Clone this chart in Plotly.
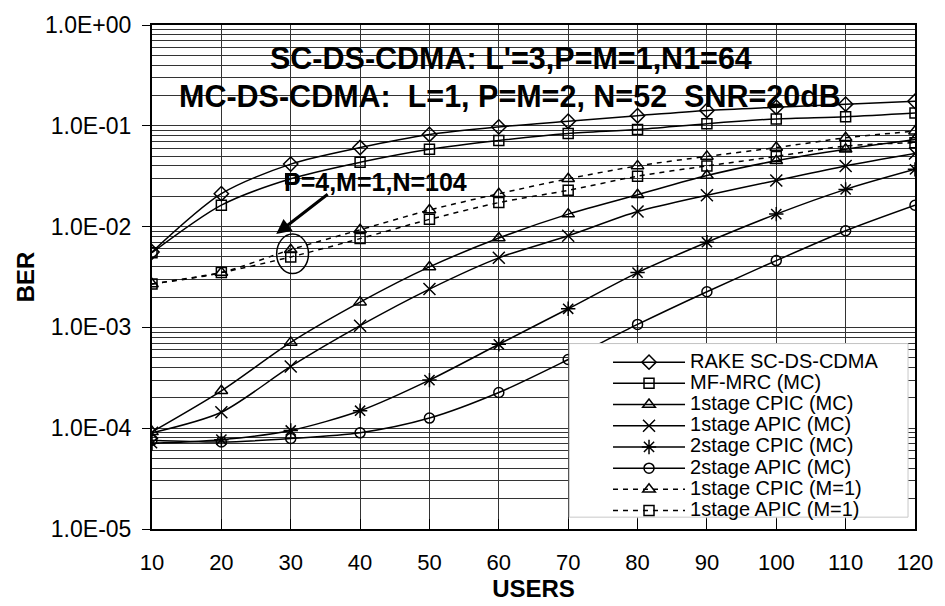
import plotly.graph_objects as go

# ---------------- data ----------------
users = [10, 20, 30, 40, 50, 60, 70, 80, 90, 100, 110, 120]

rake_sc = [5.6e-3, 0.0212, 0.0417, 0.0608, 0.082, 0.0975, 0.111, 0.126, 0.142, 0.153, 0.164, 0.175]
mf_mrc_mc = [5.5e-3, 0.0163, 0.0298, 0.0434, 0.0585, 0.0716, 0.0839, 0.0918, 0.105, 0.117, 0.123, 0.134]
cpic1_mc = [9.2e-5, 2.35e-4, 7.1e-4, 1.78e-3, 3.98e-3, 7.7e-3, 0.0133, 0.0207, 0.0321, 0.045, 0.0585, 0.073]
apic1_mc = [9.0e-5, 1.44e-4, 4.1e-4, 1.04e-3, 2.4e-3, 4.9e-3, 8.1e-3, 0.0141, 0.0205, 0.0287, 0.040, 0.053]
cpic2_mc = [7.1e-5, 7.7e-5, 9.5e-5, 1.49e-4, 3.0e-4, 6.8e-4, 1.53e-3, 3.5e-3, 7.0e-3, 0.0133, 0.0234, 0.037]
apic2_mc = [7.6e-5, 7.3e-5, 7.9e-5, 9.0e-5, 1.26e-4, 2.26e-4, 4.8e-4, 1.07e-3, 2.26e-3, 4.6e-3, 9.1e-3, 0.0163]
cpic1_m1 = [2.7e-3, 3.5e-3, 5.9e-3, 9.3e-3, 0.0146, 0.0212, 0.0298, 0.040, 0.0497, 0.0608, 0.076, 0.0885]
apic1_m1 = [2.7e-3, 3.5e-3, 5.0e-3, 7.6e-3, 0.0118, 0.0173, 0.0229, 0.0316, 0.040, 0.0497, 0.063, 0.068]

series_names = ["RAKE SC-DS-CDMA", "MF-MRC (MC)", "1stage CPIC (MC)", "1stage APIC (MC)",
                "2stage CPIC (MC)", "2stage APIC (MC)", "1stage CPIC (M=1)", "1stage APIC (M=1)"]

y_tick_vals = [1e-5, 1e-4, 1e-3, 1e-2, 1e-1, 1.0]
y_tick_text = ["1.0E-05", "1.0E-04", "1.0E-03", "1.0E-02", "1.0E-01", "1.0E+00"]
x_tick_vals = users

title_line1 = "SC-DS-CDMA: L'=3,P=M=1,N1=64"
title_line2 = "MC-DS-CDMA:\u00a0 L=1, P=M=2, N=52\u00a0 SNR=20dB"
note_text = "P=4,M=1,N=104"

# ---------------- styles ----------------
FONT = "Liberation Sans, Arial, sans-serif"
series = [rake_sc, mf_mrc_mc, cpic1_mc, apic1_mc, cpic2_mc, apic2_mc, cpic1_m1, apic1_m1]
symbols = ["diamond-open", "square-open", "triangle-up-open", "x-thin-open",
           "asterisk-open", "circle-open", "triangle-up-open", "square-open"]
sizes = [11, 10, 11, 12, 12, 10, 11, 10]
dashes = ["solid"] * 6 + ["5px,5px", "5px,5px"]

fig = go.Figure()
for name, vals, sym, sz, dsh in zip(series_names, series, symbols, sizes, dashes):
    fig.add_trace(go.Scatter(
        x=users, y=vals, mode="lines+markers",
        name='<span style="font-size:20px">' + name + "</span>",
        line=dict(color="black", width=1.5, dash=dsh, shape="spline", smoothing=0.8),
        marker=dict(symbol=sym, size=sz, color="black",
                    line=dict(color="black", width=1.5)),
    ))

# minor gridlines (log positions 2..9 in each decade)
minor_vals = [k * 10.0 ** d for d in range(-5, 0) for k in range(2, 10)]

W, H = 945, 606
L, R, T, B = 152, 25, 21, 74
pw, ph = W - L - R, H - T - B


def px(xp):
    return (xp - L) / pw


def py(yp):
    return (H - B - yp) / ph


fig.update_layout(
    width=W, height=H,
    margin=dict(l=L, r=R, t=T, b=B),
    paper_bgcolor="white", plot_bgcolor="white",
    font=dict(family=FONT, color="black"),
    showlegend=True,
    legend=dict(
        x=px(611), y=py(347), xanchor="left", yanchor="top",
        bgcolor="rgba(0,0,0,0)", borderwidth=0,
        font=dict(family=FONT, size=14, color="black"),
        tracegroupgap=0, itemwidth=72,
    ),
    xaxis=dict(
        range=[10, 120], tickvals=x_tick_vals,
        ticks="inside", ticklen=10, tickcolor="black", tickwidth=1,
        showgrid=True, gridcolor="#333333", gridwidth=1,
        showline=True, linecolor="black", linewidth=2, mirror=True,
        zeroline=False,
        tickfont=dict(family=FONT, size=22),
        ticklabelstandoff=13,
        title=dict(text="<b>USERS</b>", font=dict(family=FONT, size=24), standoff=2),
    ),
    yaxis=dict(
        type="log", range=[-5, 0],
        tickvals=y_tick_vals, ticktext=y_tick_text,
        ticks="outside", ticklen=8, tickcolor="black", tickwidth=1,
        showgrid=True, gridcolor="#333333", gridwidth=1,
        minor=dict(tickvals=minor_vals, showgrid=True, gridcolor="#333333", gridwidth=1, ticks=""),
        showline=True, linecolor="black", linewidth=2, mirror=True,
        zeroline=False,
        tickfont=dict(family=FONT, size=23),
        ticklabelstandoff=6,
        title=dict(text="<b>BER</b>", font=dict(family=FONT, size=24), standoff=4),
    ),
)

# white legend panel covering the grid (leaving tick stubs at edges)
fig.add_shape(type="rect", xref="paper", yref="paper",
              x0=px(572), x1=px(913), y0=py(520), y1=py(344),
              fillcolor="white", line=dict(color="#c8c8c8", width=1), layer="above")

# ellipse marking the M=1 results at 30 users
fig.add_shape(type="circle", xref="paper", yref="paper",
              x0=px(277.5), x1=px(309.5), y0=py(273), y1=py(233),
              line=dict(color="black", width=1.5), layer="above")

fig.add_annotation(xref="paper", yref="paper", x=px(513), y=py(54),
                   xanchor="center", yanchor="middle",
                   text="<b>" + title_line1 + "</b>", showarrow=False,
                   font=dict(family=FONT, size=30.5, color="black"))
fig.add_annotation(xref="paper", yref="paper", x=px(512), y=py(92.5),
                   xanchor="center", yanchor="middle",
                   text="<b>" + title_line2 + "</b>", showarrow=False,
                   font=dict(family=FONT, size=30.5, color="black"))
fig.add_annotation(xref="paper", yref="paper", x=px(376.5), y=py(180),
                   xanchor="center", yanchor="middle",
                   text="<b>" + note_text + "</b>", showarrow=False,
                   font=dict(family=FONT, size=25, color="black"))
fig.add_annotation(xref="paper", yref="paper", x=px(277), y=py(233), text="",
                   showarrow=True, ax=53, ay=-41, arrowhead=2, arrowsize=1,
                   arrowwidth=3, arrowcolor="black", standoff=0)

fig.write_html("out.html")
